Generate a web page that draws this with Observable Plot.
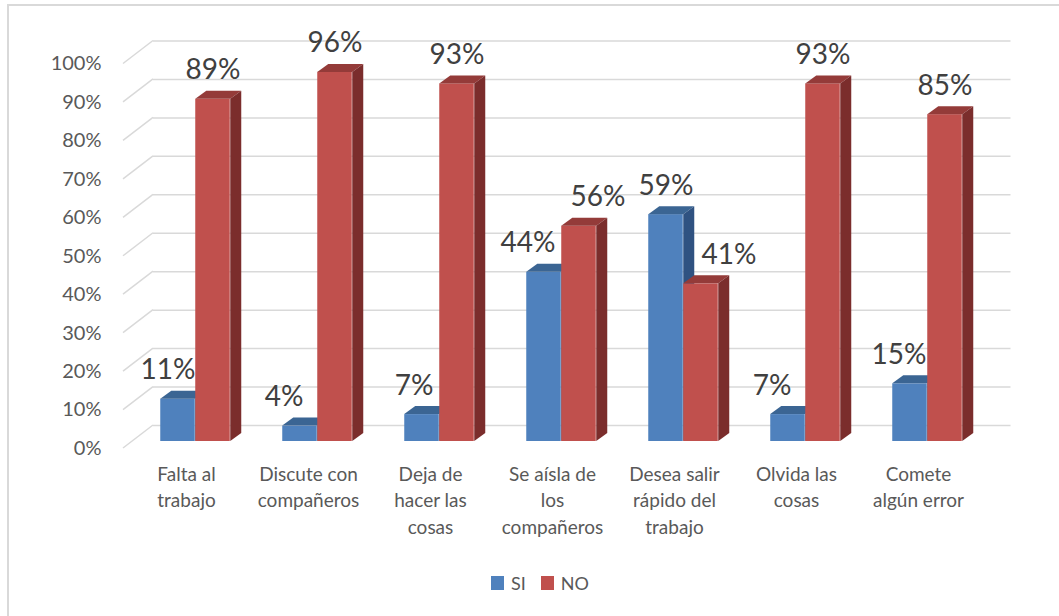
<!DOCTYPE html>
<html><head><meta charset="utf-8">
<script src="https://cdn.jsdelivr.net/npm/d3@7"></script>
<script src="https://cdn.jsdelivr.net/npm/@observablehq/plot@0.6"></script>
<style>
html,body{margin:0;padding:0;background:#fff;width:1059px;height:616px;overflow:hidden;}
#frame{position:absolute;left:7px;top:4px;width:1100px;height:700px;border-left:2px solid #d9d9d9;border-top:2px solid #d9d9d9;}
#chart{position:absolute;left:0;top:0;}
#legend{position:absolute;left:491px;top:574px;display:flex;align-items:center;font-family:Lato,sans-serif;font-size:18px;color:#595959;line-height:18px;}
#legend .sw{width:13px;height:14px;display:inline-block;margin-right:7px;}
#legend .item{display:flex;align-items:center;margin-right:15px;}
</style></head><body>
<div id="frame"></div>
<div id="chart"></div>
<div id="legend"></div>
<script>
// ---- data ----
const categories = [
  "Falta al\ntrabajo",
  "Discute con\ncompañeros",
  "Deja de\nhacer las\ncosas",
  "Se aísla de\nlos\ncompañeros",
  "Desea salir\nrápido del\ntrabajo",
  "Olvida las\ncosas",
  "Comete\nalgún error"
];
const seriesNames = ["SI", "NO"];
const siValues = [11, 4, 7, 44, 59, 7, 15];
const noValues = [89, 96, 93, 56, 41, 93, 85];
const yTicks = [0, 10, 20, 30, 40, 50, 60, 70, 80, 90, 100];

// ---- layout / style (not data) ----
const W = 1059, H = 560;
const colors = {
  SI: {front: "#4f81bd", top: "#3b6593", side: "#2f5281"},
  NO: {front: "#c0504d", top: "#943b39", side: "#7b2d2c"}
};
const BAR_FRAC = 35 / 122.5;        // bar width as fraction of band
const DX = 11, DY = -8;             // bar depth offset
const BACK = [21, -16];             // back wall offset from bar plane
const FRONT = [-9, 7];              // front plane offset from bar plane
const labelNudge = {SI: [-10, -16, -8, -16, 0, -16, -11], NO: [0, 0, 0, 19, 28, 0, 0]};

const rows = s => categories.map((c, i) => ({cat: c, v: (s === "SI" ? siValues : noValues)[i], s, i}));

function wallMark(index, scales, values, dims) {
  const g = d3.create("svg:g").attr("stroke", "#d9d9d9").attr("stroke-width", 1.5);
  const x0 = dims.marginLeft;
  for (const t of yTicks) {
    const yy = scales.y(t);
    g.append("line")
      .attr("x1", x0 + FRONT[0]).attr("y1", yy + FRONT[1])
      .attr("x2", x0 + BACK[0]).attr("y2", yy + BACK[1]);
  }
  return g.node();
}

function facesMark(s) {
  return (index, scales, values, dims) => {
    const bw = (dims.width - dims.marginLeft - dims.marginRight) / categories.length;
    const w = bw * BAR_FRAC;
    const g = d3.create("svg:g");
    const y0 = scales.y(0);
    rows(s).forEach(d => {
      const bandStart = scales.x(d.cat);
      const x0 = bandStart + bw / 2 + (s === "SI" ? -w : 0);
      const x1 = x0 + w;
      const yt = scales.y(d.v);
      g.append("polygon")
        .attr("points", [[x0, yt], [x1, yt], [x1 + DX, yt + DY], [x0 + DX, yt + DY]].map(p => p.join(",")).join(" "))
        .attr("fill", colors[s].top);
      g.append("polygon")
        .attr("points", [[x1, yt], [x1 + DX, yt + DY], [x1 + DX, y0 + DY], [x1, y0]].map(p => p.join(",")).join(" "))
        .attr("fill", colors[s].side);
    });
    return g.node();
  };
}

const bw0 = (W - 132 - 69.5) / categories.length;
const wBar = bw0 * BAR_FRAC;
const inSmall = (bw0 - 2 * wBar) / 2;
const inLarge = bw0 / 2;

function seriesMarks(s) {
  return [
    Plot.barY(rows(s), {
      x: "cat", y: "v", fill: colors[s].front,
      insetLeft: s === "SI" ? inSmall : inLarge,
      insetRight: s === "SI" ? inLarge : inSmall
    }),
    facesMark(s)
  ];
}

function labelMarks(s) {
  return rows(s).map(d => Plot.text([d], {
    x: "cat", y: "v", text: r => r.v + "%",
    dx: (s === "SI" ? -wBar / 2 : wBar / 2) + labelNudge[s][d.i],
    dy: -29, fontSize: 28, fill: "#404040", lineAnchor: "middle"
  }));
}

const chart = Plot.plot({
  width: W, height: H,
  marginLeft: 132, marginRight: 69.5, marginTop: 56.5, marginBottom: H - 441,
  style: {fontFamily: "Lato, sans-serif", background: "transparent", color: "#595959", overflow: "visible"},
  x: {domain: categories, padding: 0},
  y: {domain: [0, 100]},
  marks: [
    Plot.ruleY(yTicks, {dx: BACK[0], dy: BACK[1], stroke: "#d9d9d9", strokeWidth: 1.5}),
    wallMark,
    ...seriesMarks("SI"),
    ...seriesMarks("NO"),
    ...labelMarks("SI"),
    ...labelMarks("NO"),
    Plot.axisY({ticks: yTicks, tickSize: 0, tickPadding: 31, dy: FRONT[1], tickFormat: d => d + "%", fontSize: 20, fill: "#595959", label: null}),
    Plot.axisX({tickSize: 0, tickPadding: 14, dy: FRONT[1], dx: FRONT[0], fontSize: 19, lineHeight: 1.38, fill: "#595959", label: null})
  ]
});
document.getElementById("chart").appendChild(chart);

const legend = document.getElementById("legend");
seriesNames.forEach(n => {
  const it = document.createElement("span");
  it.className = "item";
  const sw = document.createElement("span");
  sw.className = "sw";
  sw.style.background = colors[n].front;
  it.appendChild(sw);
  it.appendChild(document.createTextNode(n));
  legend.appendChild(it);
});
</script>
</body></html>
